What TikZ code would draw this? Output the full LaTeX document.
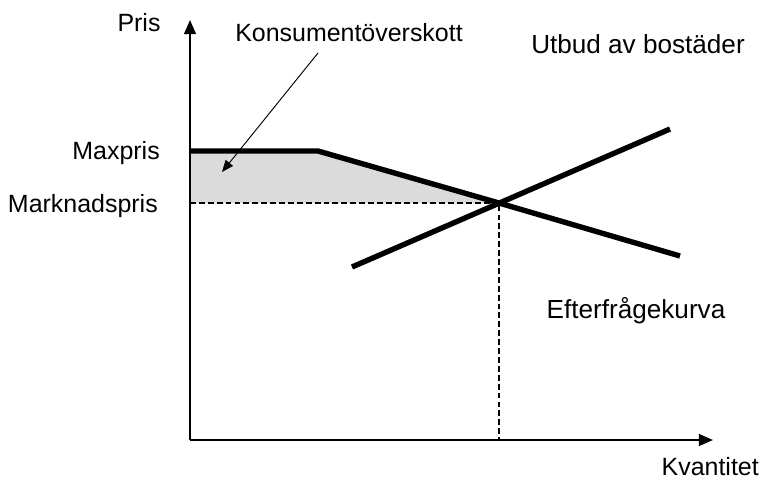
\documentclass[tikz,border=0pt]{standalone}
\usepackage{fontspec}
\setmainfont{Liberation Sans}
\usetikzlibrary{arrows.meta}
\begin{document}
\begin{tikzpicture}[>={Triangle[length=12pt,width=10pt]}, x=0.03cm, y=-0.03cm,
    every node/.style={font=\fontsize{21.3}{25}\selectfont, inner sep=0pt},
    stor/.style={font=\fontsize{22.3}{26}\selectfont},
    kurva/.style={line width=4.6pt},
    axel/.style={line width=1.7pt, ->},
    hjalp/.style={dash pattern=on 5pt off 2.6pt, line width=0.9pt}]
    \useasboundingbox (0,0) rectangle (762,481);

    \coordinate (O) at (190,440);
    \coordinate (ytop) at (190,20);
    \coordinate (xend) at (713,440);
    \coordinate (maxy) at (190,151);
    \coordinate (mky) at (190,203);
    \coordinate (kink) at (318,151);
    \coordinate (eq) at (499,203);
    \coordinate (qx) at (499,440);
    \coordinate (dend) at (680,256);
    \coordinate (sbeg) at (352,267);
    \coordinate (send) at (670,129);

    % konsumentoverskott
    \fill[gray!28] (maxy) -- (kink) -- (eq) -- (mky) -- cycle;
    \draw[hjalp] (mky) -- (eq) -- (qx);

    \draw[axel] (O) -- (ytop);
    \draw[axel] (O) -- (xend);

    % efterfragan och utbud
    \draw[kurva] (maxy) -- (kink) -- (eq) -- (dend);
    \draw[kurva] (sbeg) -- (send);

    \node (pris) at (139,23) {Pris};
    \node[anchor=east] (kvant) at (759,467) {Kvantitet};
    \node[anchor=east] (maxp) at (160,153) {Maxpris};
    \node[anchor=east] (mkp) at (158,206) {Marknadspris};
    \node (ko) at (349,33) {Konsumentöverskott};
    \node[stor] (utbud) at (638,44) {Utbud av bostäder};
    \node[stor] (eftf) at (636,311) {Efterfrågekurva};

    \coordinate (pil) at (222,172);
    \draw[line width=0.8pt, -{Triangle[length=10pt,width=8pt]}] (318,53) -- (pil);
\end{tikzpicture}
\end{document}
